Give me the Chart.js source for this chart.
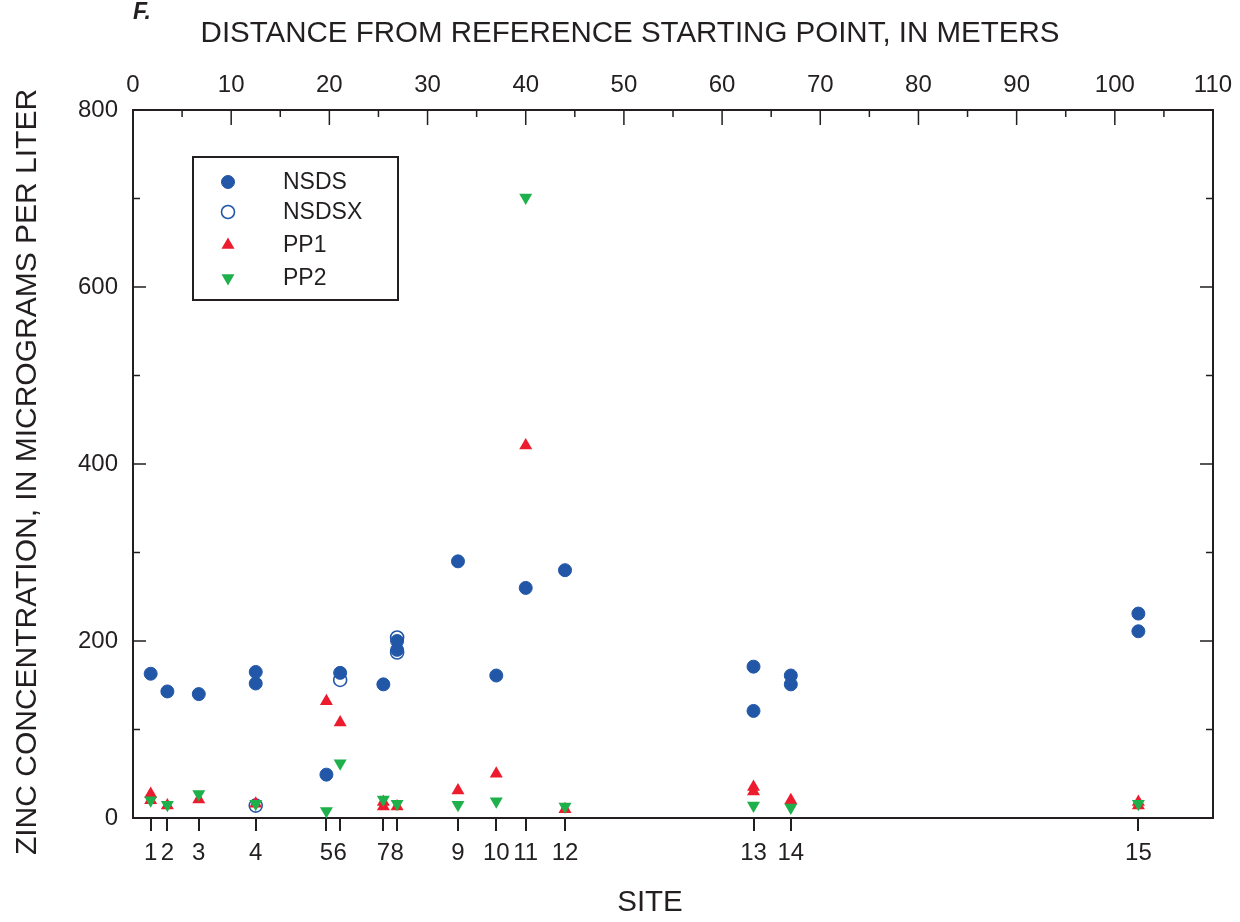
<!DOCTYPE html>
<html>
<head>
<meta charset="utf-8">
<script src="https://cdn.jsdelivr.net/npm/chart.js@4/dist/chart.umd.min.js"></script>
<style>
  html, body { margin: 0; padding: 0; background: #fff; }
  #wrap { width: 1240px; height: 922px; }
</style>
</head>
<body>
<div id="wrap"><canvas id="zincChart" width="1240" height="922"></canvas></div>
<script>
// Sites along the bottom axis and where they sit, in meters
const siteLabels = ["1", "2", "3", "4", "5", "6", "7", "8", "9", "10", "11", "12", "13", "14", "15"]
const siteDistance = [1.8, 3.5, 6.7, 12.5, 19.7, 21.1, 25.5, 26.9, 33.1, 37.0, 40.0, 44.0, 63.2, 67.0, 102.4]

// Top axis ticks, meters
const meterTicks = [0, 10, 20, 30, 40, 50, 60, 70, 80, 90, 100, 110]
const zincTicks = [0, 200, 400, 600, 800]

// Zinc, micrograms per liter, by site number
const nsdsSite = [1, 2, 3, 4, 4, 5, 6, 7, 8, 8, 9, 10, 11, 12, 13, 13, 14, 14, 15, 15]
const nsdsZinc = [163, 143, 140, 165, 152, 49, 164, 151, 200, 190, 290, 161, 260, 280, 171, 121, 161, 151, 231, 211]

const nsdsxSite = [4, 6, 8, 8]
const nsdsxZinc = [14, 156, 204, 187]

const pp1Site = [1, 1, 2, 3, 4, 5, 6, 7, 7, 8, 9, 10, 11, 12, 13, 13, 14, 15, 15]
const pp1Zinc = [27, 20, 14, 21, 16, 132, 108, 18, 13, 13, 31, 50, 421, 10, 35, 30, 20, 18, 14]

const pp2Site = [1, 2, 3, 4, 5, 6, 7, 8, 9, 10, 11, 12, 13, 14, 15]
const pp2Zinc = [20, 15, 27, 16, 8, 62, 21, 16, 15, 19, 701, 13, 14, 12, 16]

const toPoints = (sites, values) => sites.map((s, i) => ({ x: siteDistance[s - 1], y: values[i] }))

const blue = "#2257a8"
const red = "#ec1c2e"
const green = "#1db04b"
const ink = "#231f20"
const font = "'Liberation Sans', Arial, Helvetica, sans-serif"

const series = [
  { label: "NSDS", data: toPoints(nsdsSite, nsdsZinc), pointStyle: "circle", pointRadius: 6.5,
    backgroundColor: blue, borderColor: blue, borderWidth: 1, order: 3 },
  { label: "NSDSX", data: toPoints(nsdsxSite, nsdsxZinc), pointStyle: "circle", pointRadius: 6.5,
    backgroundColor: "rgba(255,255,255,0)", borderColor: blue, borderWidth: 1.6, order: 2 },
  { label: "PP1", data: toPoints(pp1Site, pp1Zinc), pointStyle: "triangle", pointRadius: 7.5,
    backgroundColor: red, borderColor: red, borderWidth: 0, order: 1 },
  { label: "PP2", data: toPoints(pp2Site, pp2Zinc), pointStyle: "triangle", pointRotation: 180, pointRadius: 7.5,
    backgroundColor: green, borderColor: green, borderWidth: 0, order: 0 },
]

// inside ticks, right frame, titles and the boxed legend
const extras = {
  id: "extras",
  afterDraw(chart) {
    const ctx = chart.ctx
    const a = chart.chartArea
    const xs = chart.scales.x2
    const ys = chart.scales.y
    ctx.save()
    ctx.strokeStyle = ink
    ctx.lineWidth = 2
    ctx.beginPath()
    ctx.moveTo(a.right, a.top)
    ctx.lineTo(a.right, a.bottom)
    ctx.stroke()

    ctx.lineWidth = 1.5
    ctx.beginPath()
    for (let m = 0; m <= 110; m += 5) {
      const px = xs.getPixelForValue(m)
      const len = m % 10 === 0 ? 15 : 7
      ctx.moveTo(px, a.top)
      ctx.lineTo(px, a.top + len)
    }
    for (let v = 0; v <= 800; v += 100) {
      const py = ys.getPixelForValue(v)
      const len = v % 200 === 0 ? 13 : 7
      ctx.moveTo(a.left, py)
      ctx.lineTo(a.left + len, py)
      ctx.moveTo(a.right, py)
      ctx.lineTo(a.right - len, py)
    }
    ctx.stroke()

    ctx.fillStyle = ink
    ctx.textAlign = "center"
    ctx.textBaseline = "middle"
    ctx.font = "29.5px " + font
    ctx.fillText("DISTANCE FROM REFERENCE STARTING POINT, IN METERS", 630, 34)
    ctx.fillText("SITE", 650, 903)
    ctx.save()
    ctx.translate(28, 472)
    ctx.rotate(-Math.PI / 2)
    ctx.font = "30px " + font
    ctx.fillText("ZINC CONCENTRATION, IN MICROGRAMS PER LITER", 0, 0)
    ctx.restore()
    ctx.textAlign = "left"
    ctx.font = "italic bold 23px " + font
    ctx.fillText("F.", 133, 13)

    // legend
    ctx.lineWidth = 2
    ctx.strokeRect(193, 157, 205, 143)
    const rows = [182, 212, 245, 278]
    ctx.font = "23px " + font
    chart.data.datasets.forEach((ds, i) => {
      ctx.fillStyle = ds.backgroundColor
      ctx.strokeStyle = ds.borderColor
      ctx.lineWidth = ds.borderWidth
      Chart.helpers.drawPoint(ctx, {
        pointStyle: ds.pointStyle,
        rotation: ds.pointRotation || 0,
        radius: ds.pointRadius,
        borderWidth: ds.borderWidth
      }, 228, rows[i])
      ctx.fillStyle = ink
      ctx.fillText(ds.label, 283, rows[i] + 1)
    })
    ctx.restore()
  }
}

new Chart(document.querySelector("#zincChart").getContext("2d"), {
  type: "scatter",
  data: { datasets: series },
  options: {
    responsive: false,
    animation: false,
    layout: { padding: { right: 27 } },
    plugins: { legend: { display: false }, tooltip: { enabled: false } },
    scales: {
      x: {
        type: "linear",
        position: "bottom",
        min: 0,
        max: 110,
        afterFit: (s) => { s.height = 104 },
        afterBuildTicks: (s) => { s.ticks = siteDistance.map(v => ({ value: v })) },
        ticks: {
          autoSkip: false,
          maxRotation: 0,
          color: ink,
          padding: 8,
          font: { family: font, size: 24 },
          callback: (v, i) => siteLabels[i]
        },
        grid: { drawOnChartArea: false, drawTicks: true, tickLength: 13, color: ink, lineWidth: 2 },
        border: { display: true, color: ink, width: 2 }
      },
      x2: {
        type: "linear",
        position: "top",
        min: 0,
        max: 110,
        afterFit: (s) => { s.height = 110 },
        afterBuildTicks: (s) => { s.ticks = meterTicks.map(v => ({ value: v })) },
        ticks: { color: ink, padding: 2, maxRotation: 0, font: { family: font, size: 24 } },
        grid: { display: false },
        border: { display: true, color: ink, width: 2 }
      },
      y: {
        type: "linear",
        position: "left",
        min: 0,
        max: 800,
        afterFit: (s) => { s.width = 133 },
        afterBuildTicks: (s) => { s.ticks = zincTicks.map(v => ({ value: v })) },
        ticks: { color: ink, padding: 7, font: { family: font, size: 24 } },
        grid: { display: false },
        border: { display: true, color: ink, width: 2 }
      }
    }
  },
  plugins: [extras]
})
</script>
</body>
</html>
